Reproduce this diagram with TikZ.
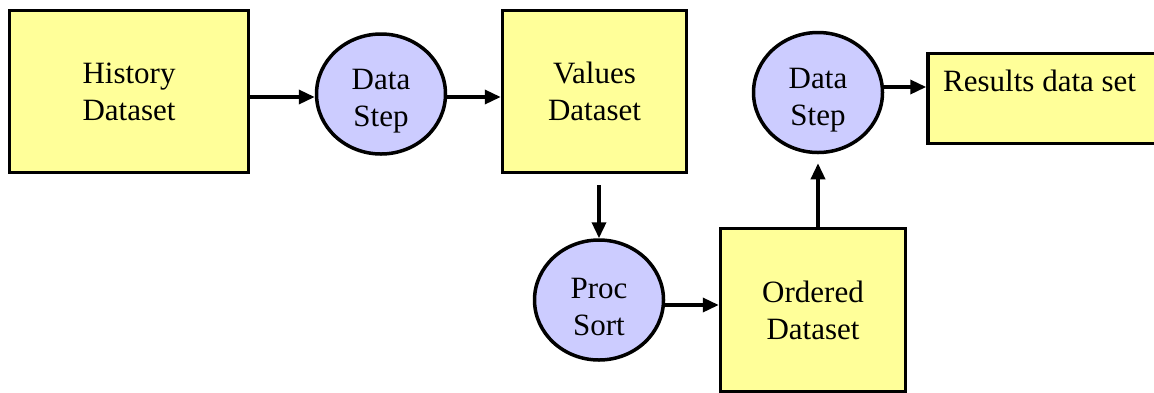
\documentclass[tikz,border=0pt]{standalone}
\usepackage{fontspec}
\setmainfont{Liberation Serif}
\usetikzlibrary{arrows.meta,shapes.geometric}
\definecolor{dataset}{HTML}{FFFF99}
\definecolor{proc}{HTML}{CCCCFF}
\begin{document}
\begin{tikzpicture}[x=1pt,y=-1pt,
  every node/.style={font=\fontsize{31}{37}\selectfont, align=center, inner sep=0pt},
  databox/.style={rectangle, draw=black, line width=3.5pt, fill=dataset},
  procstep/.style={ellipse, draw=black, line width=3.5pt, fill=proc,
    minimum width=129pt, minimum height=120pt, text height=72pt},
  arr/.style={line width=3.5pt, -{Triangle[length=16pt,width=14pt]}}]
  \useasboundingbox (0,0) rectangle (1154,392);

  % data sets
  \node[databox, minimum width=239pt, minimum height=162pt] (hist) at (129,91.5) {History\\Dataset};
  \node[databox, minimum width=184pt, minimum height=162pt] (vals) at (594.5,91.5) {Values\\Dataset};
  \node[databox, minimum width=185pt, minimum height=163pt] (ord) at (813,310) {Ordered\\Dataset};
  \node[databox, minimum width=236pt, minimum height=90pt] (res) at (1046,98.5) {};
  \node[anchor=base west] (restext) at (943,91) {Results data set};

  % processing steps
  \node[procstep] (c1) at (381,94) {Data\\Step};
  \node[procstep] (proc) at (599,300) {Proc\\Sort};
  \node[procstep] (c2) at (818,92.5) {Data\\Step};

  % flow
  \draw[arr] (hist.east |- 0,97) -- (c1.west |- 0,97);
  \draw[arr] (c1.east |- 0,97) -- (vals.west |- 0,97);
  \draw[arr] ([yshift=-11pt]vals.south -| proc.north) -- (proc.north);
  \draw[arr] (proc.east |- 0,305) -- (ord.west |- 0,305);
  \draw[arr] (ord.north -| c2.south) -- ([yshift=-9pt]c2.south);
  \draw[arr] (c2.east |- 0,87) -- (res.west |- 0,87);
\end{tikzpicture}
\end{document}
